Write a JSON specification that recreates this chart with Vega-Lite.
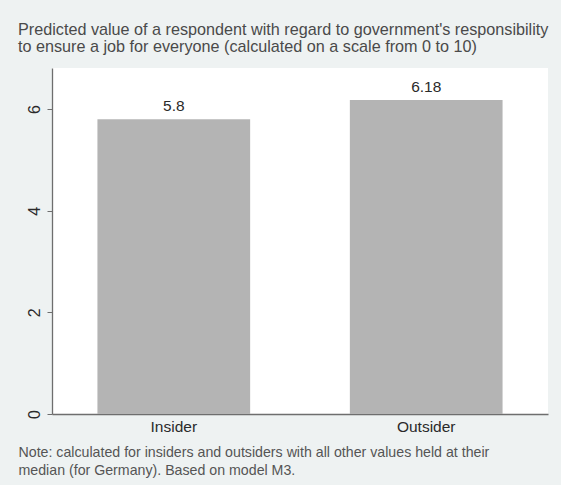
{
  "$schema": "https://vega.github.io/schema/vega-lite/v6.json",
  "autosize": {"type": "none"},
  "width": 496,
  "height": 346,
  "padding": {"left": 52, "top": 68, "right": 13, "bottom": 71},
  "background": "#eef2f2",
  "title": {
    "text": ["Predicted value of a respondent with regard to government's responsibility", "to ensure a job for everyone (calculated on a scale from 0 to 10)"],
    "anchor": "start",
    "frame": "group",
    "dx": -34,
    "offset": 13,
    "fontSize": 16.2,
    "fontWeight": "normal",
    "font": "Liberation Sans",
    "color": "#4a4a4a",
    "lineHeight": 17
  },
  "data": {
    "values": [
      {"group": "Insider", "value": 5.8},
      {"group": "Outsider", "value": 6.18}
    ]
  },
  "encoding": {
    "x": {
      "field": "group",
      "type": "nominal",
      "sort": null,
      "scale": {"paddingInner": 0.395, "paddingOuter": 0.18},
      "axis": {
        "title": ["Note: calculated for insiders and outsiders with all other values held at their", "median (for Germany). Based on model M3."],
        "titleAnchor": "start",
        "titleAlign": "left",
        "titleX": -34,
        "titleY": 42,
        "titleBaseline": "alphabetic",
        "titleLineHeight": 18,
        "titleFontSize": 14.2,
        "titleFontWeight": "normal",
        "titleFont": "Liberation Sans",
        "titleColor": "#555555",
        "labelAngle": 0,
        "labelFontSize": 15.5,
        "labelFont": "Liberation Sans",
        "labelColor": "#2a2a2a",
        "labelPadding": 5,
        "ticks": false,
        "domainColor": "#6e6e6e",
        "domainWidth": 1.3
      }
    },
    "y": {
      "field": "value",
      "type": "quantitative",
      "scale": {"domain": [0, 6.81], "nice": false, "zero": true},
      "axis": {
        "title": null,
        "values": [0, 2, 4, 6],
        "grid": false,
        "tickSize": 5,
        "tickColor": "#6e6e6e",
        "domainColor": "#6e6e6e",
        "domainWidth": 1.3,
        "labelAngle": -90,
        "labelAlign": "center",
        "labelBaseline": "bottom",
        "labelPadding": 5,
        "labelFontSize": 16,
        "labelFont": "Liberation Sans",
        "labelColor": "#2a2a2a"
      }
    }
  },
  "layer": [
    {"mark": {"type": "bar", "color": "#b4b4b4"}},
    {
      "mark": {"type": "text", "dy": -8, "baseline": "alphabetic", "fontSize": 15.5, "font": "Liberation Sans", "color": "#2a2a2a"},
      "encoding": {"text": {"field": "value", "type": "nominal"}}
    }
  ],
  "config": {
    "view": {"fill": "#ffffff", "stroke": null}
  }
}
